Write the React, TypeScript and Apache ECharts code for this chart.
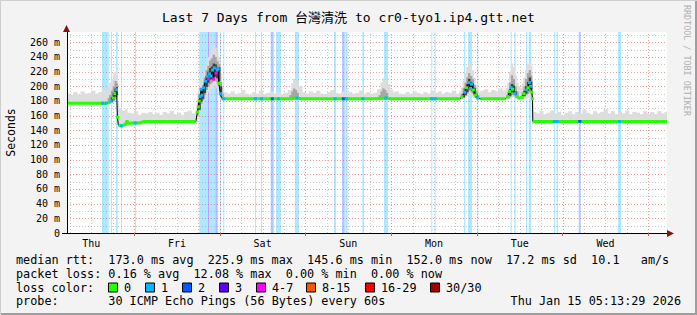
import React, { useEffect, useRef } from 'react';
import * as echarts from 'echarts';

const FONT = "'DejaVu Sans Mono', 'Noto Sans CJK TC', monospace";

// x axis: hours since Thu Jan 8 2026 00:00
const X_MIN = 5.2247;
const X_MAX = 173.2247;
const Y_MAX = 274;

const titleText = 'Last 7 Days from 台灣清洗 to cr0-tyo1.ip4.gtt.net';
const dayLabels = ['Thu', 'Fri', 'Sat', 'Sun', 'Mon', 'Tue', 'Wed'];
const dayNoons = [12, 36, 60, 84, 108, 132, 156];
const midnights = [24, 48, 72, 96, 120, 144, 168];
const sixHours = [6, 12, 18, 30, 36, 42, 54, 60, 66, 78, 84, 90, 102, 108, 114, 126, 132, 138, 150, 156, 162];
const yLabelValues = [0, 20, 40, 60, 80, 100, 120, 140, 160, 180, 200, 220, 240, 260];
const yMajor = [20, 40, 60, 80, 100, 120, 140, 160, 180, 200, 220, 240, 260];
const yMinor = [10, 30, 50, 70, 90, 110, 130, 150, 170, 190, 210, 230, 250, 270];

const lossColors = ['#26ff00', '#00b8ff', '#0059ff', '#5e00ff', '#ff00ff', '#ff5500', '#ff0000', '#a10000'];
const lossLabels = ['0', '1', '2', '3', '4-7', '8-15', '16-29', '30/30'];

const rttStats = ['median rtt:', '173.0 ms avg', '225.9 ms max', '145.6 ms min', '152.0 ms now', '17.2 ms sd', '10.1   am/s'];
const lossStats = ['packet loss:', '0.16 % avg', '12.08 % max', '0.00 % min', '0.00 % now'];
const probeText = 'probe:       30 ICMP Echo Pings (56 Bytes) every 60s';
const stampText = 'Thu Jan 15 05:13:29 2026';

// [hour, median ms, lost pings]
const median: [number, number, number][] = [
  [5.22, 177, 0], [7, 177, 0], [9, 177, 0], [11, 177, 0], [13, 177, 0], [15.2, 177, 1], [16.2, 177, 1],
  [17, 178, 0], [17.6, 180, 1], [18.2, 184, 0], [18.6, 190, 0], [19.1, 195, 1], [19.35, 158, 0],
  [19.6, 147, 0], [20.45, 146, 1], [21, 147, 0], [21.6, 148, 0], [22, 153, 0], [22.4, 149, 0], [23, 150, 0],
  [24.35, 150, 1], [25.5, 150, 0], [26.8, 152, 0], [29, 152, 0], [32, 152, 0], [35, 152, 0], [38, 152, 0], [41.3, 152, 0],
  [41.75, 165, 0], [42, 172, 0], [42.25, 180, 0], [42.5, 186, 1], [42.75, 196, 1], [43, 188, 1], [43.5, 198, 1],
  [44, 207, 1], [44.5, 213, 1], [44.8, 210, 5], [45.1, 217, 1], [45.5, 214, 1], [46, 222, 1], [46.25, 210, 5],
  [46.5, 225, 1], [46.95, 218, 5], [47.25, 222, 1], [47.5, 224, 1], [47.75, 204, 0], [48.15, 190, 1],
  [48.5, 184, 0], [49.1, 183, 1], [50, 183, 0], [53, 183, 0], [56, 183, 0], [58, 183, 1], [59, 183, 0],
  [59.7, 183, 1], [61, 183, 0], [62.7, 183, 2], [63.5, 183, 0], [64.4, 183, 1], [66, 183, 0], [68, 183, 0],
  [69.6, 184, 1], [71, 183, 0], [74, 183, 0], [77, 183, 0], [80.25, 183, 1], [81.5, 183, 0], [82.6, 183, 2],
  [83.5, 183, 1], [85, 183, 0], [88.1, 183, 1], [90, 183, 0], [92, 183, 0], [94.5, 184, 1], [96, 183, 0],
  [99, 183, 0], [102, 183, 0], [105, 183, 0], [107.35, 183, 1], [107.8, 183, 0], [108.3, 183, 1], [110, 183, 0],
  [113, 183, 0], [115.3, 183, 0],
  [115.8, 186, 0], [116.55, 192, 1], [117.1, 198, 0], [117.7, 205, 1], [118.2, 197, 1], [118.5, 203, 1],
  [119, 195, 0], [119.6, 188, 0], [120.25, 184, 1],
  [121, 183, 0], [124, 183, 0], [126, 183, 0], [128, 183, 0],
  [128.6, 186, 0], [129.1, 193, 0], [129.6, 198, 1], [130, 196, 0], [130.65, 190, 1], [131.2, 186, 0],
  [131.8, 184, 0], [132.5, 185, 0], [133.2, 190, 0], [133.9, 195, 1], [134.3, 198, 0], [134.7, 205, 1],
  [135, 200, 1], [135.35, 192, 0], [135.55, 183, 0],
  [135.65, 152, 0], [138, 152, 0], [141.7, 152, 1], [142.1, 152, 0], [142.5, 152, 1], [144, 152, 0],
  [147, 152, 0], [148.8, 152, 2], [150, 152, 0], [153, 152, 0], [156, 152, 0], [159.9, 152, 1], [161, 152, 0],
  [164, 152, 0], [167, 152, 0], [170, 152, 0], [173.22, 152, 0],
];

// time windows in which the median is drawn as dots on a black line
const spikeWindows: [number, number][] = [[16.8, 19.5], [41.5, 48.3], [115.5, 120.6], [128.3, 135.6]];

// [hour from, hour to, lost pings]
const lossBars: [number, number, number][] = [
  [15.0, 16.9, 1], [17.54, 17.82, 1], [18.94, 19.42, 1], [20.34, 20.6, 1], [24.26, 24.5, 1],
  [42.26, 47.58, 1], [44.7, 44.95, 5], [46.86, 47.1, 5], [48.06, 48.34, 1], [48.98, 49.26, 1],
  [57.86, 58.14, 1], [59.54, 59.82, 1], [62.26, 63.1, 2], [63.74, 65.14, 1], [69.06, 70.18, 1],
  [79.98, 80.54, 1], [82.22, 82.98, 2], [83.14, 83.82, 1], [87.9, 88.38, 1], [93.98, 95.1, 1],
  [107.22, 107.5, 1], [108.18, 108.46, 1], [116.38, 116.74, 1], [117.5, 118.62, 1], [120.1, 120.38, 1],
  [129.46, 129.74, 1], [130.46, 130.86, 1], [133.74, 134.1, 1], [134.5, 135.22, 1],
  [141.58, 141.86, 1], [142.34, 142.7, 1], [148.5, 149.06, 2], [159.5, 160.34, 1],
];

// smoke: [hour, low ms, high ms]
type Band = [number, number | null, number | null][];
const smokeOuter: Band = [
  [5.22, 175, 190], [6, 175, 188], [7, 175, 192], [8, 175, 189], [9, 175, 193], [10, 175, 190], [11, 175, 191],
  [12, 175, 194], [13, 175, 190], [14, 175, 192], [15, 175, 195], [16, 175, 193], [16.6, 176, 200], [17, 176, 205],
  [17.5, 177, 210], [18, 178, 216], [18.5, 180, 220], [19, 182, 214], [19.3, 150, 178],
  [19.7, 145, 170], [20.5, 145, 167], [21.5, 146, 169], [22, 148, 164], [23, 148, 163], [24, 148, 166],
  [25, 148, 161], [26, 149, 164], [27, 150, 163], [28, 150, 165], [29, 150, 162], [30, 150, 164], [31, 150, 161],
  [32, 150, 165], [33, 150, 163], [34, 150, 166], [35, 150, 162], [36, 150, 164], [37, 150, 161], [38, 150, 165],
  [39, 150, 167], [40, 150, 163], [41, 150, 166],
  [41.5, 152, 175], [41.75, 158, 190], [42, 165, 198], [42.5, 172, 205], [43, 176, 212], [43.5, 182, 222],
  [44, 188, 232], [44.5, 192, 240], [45, 196, 246], [45.5, 198, 250], [46, 200, 256], [46.5, 200, 252],
  [47, 198, 246], [47.5, 194, 240], [48, 183, 218], [48.5, 181, 198], [49, 181, 192],
  [50, 181, 190], [51, 181, 193], [52, 181, 189], [53, 181, 191], [54, 181, 195], [55, 181, 190], [56, 181, 188],
  [57, 181, 192], [58, 181, 190], [59, 181, 194], [60, 181, 189], [61, 181, 191], [62, 181, 193], [63, 181, 190],
  [64, 181, 192], [65, 181, 189], [66, 181, 191], [67, 181, 195], [68, 181, 204], [68.5, 181, 210], [69, 181, 208],
  [69.5, 181, 206], [70, 181, 200], [71, 181, 192], [72, 181, 190], [73, 181, 193], [74, 181, 191], [75, 181, 194],
  [76, 181, 190], [77, 181, 189], [78, 181, 192], [79, 181, 195], [80, 181, 191], [81, 181, 190], [82, 181, 193],
  [83, 181, 189], [84, 181, 192], [85, 181, 190], [86, 181, 191], [87, 181, 194], [88, 181, 190], [89, 181, 192],
  [90, 181, 190], [91, 181, 191], [92, 181, 196], [93, 181, 205], [93.5, 181, 211], [94, 181, 209], [94.5, 181, 207],
  [95, 181, 203], [95.7, 181, 195], [96.5, 181, 191], [97, 181, 193], [98, 181, 190], [99, 181, 189], [100, 181, 192],
  [101, 181, 190], [102, 181, 193], [103, 181, 191], [104, 181, 189], [105, 181, 192], [106, 181, 190], [107, 181, 194],
  [108, 181, 191], [109, 181, 193], [110, 181, 190], [111, 181, 192], [112, 181, 191], [113, 181, 194], [114, 181, 190],
  [115, 181, 193], [115.5, 182, 198], [116, 182, 208], [116.5, 184, 218], [117, 186, 226], [117.5, 188, 232],
  [118, 188, 228], [118.5, 186, 222], [119, 184, 212], [119.5, 182, 202], [120, 182, 196], [120.5, 181, 192],
  [121, 181, 194], [122, 181, 196], [123, 181, 192], [124, 181, 195], [125, 181, 193], [126, 181, 197], [127, 181, 194],
  [128, 181, 198], [128.5, 182, 205], [129, 183, 220], [129.5, 185, 231], [130, 185, 226], [130.5, 183, 215],
  [131, 182, 205], [131.5, 182, 200], [132, 182, 198], [132.5, 182, 204], [133, 182, 212], [133.5, 183, 222],
  [134, 185, 230], [134.5, 186, 233], [135, 186, 228], [135.35, 183, 210], [135.55, 150, 180],
  [135.7, 150, 165], [136.5, 150, 163], [137.5, 150, 166], [138.5, 150, 162], [139.5, 150, 164], [140.5, 150, 167],
  [141.5, 150, 163], [142.5, 150, 165], [143.5, 150, 161], [144.5, 150, 164], [145.5, 150, 166], [146.5, 150, 162],
  [147.5, 150, 165], [148.5, 150, 163], [149.5, 150, 168], [150.5, 150, 164], [151.5, 150, 162], [152.5, 150, 166],
  [153.5, 150, 163], [154.5, 150, 165], [155.5, 150, 169], [156.5, 150, 163], [157.5, 150, 166], [158.5, 150, 162],
  [159.5, 150, 165], [160.5, 150, 163], [161.5, 150, 167], [162.5, 150, 162], [163.5, 150, 165], [164.5, 150, 164],
  [165.5, 150, 162], [166.5, 150, 166], [167.5, 150, 163], [168.5, 150, 165], [169.5, 150, 162], [170.5, 150, 166],
  [171.5, 150, 163], [172.5, 150, 165],
];
const smokeMid: Band = [
  [16.6, 176, 184], [17, 177, 188], [17.5, 178, 194], [18, 180, 200], [18.5, 183, 207], [19, 185, 204], [19.3, null, null],
  [41.75, 160, 178], [42, 167, 190], [42.5, 176, 196], [43, 181, 202], [43.5, 188, 212], [44, 195, 222],
  [44.5, 199, 228], [45, 203, 235], [45.5, 205, 238], [46, 207, 243], [46.5, 207, 240], [47, 205, 234],
  [47.5, 200, 230], [48, 186, 206], [48.5, 182, 190], [49, null, null],
  [67.5, 182, 188], [68, 183, 193], [68.5, 184, 197], [69, 184, 195], [69.5, 183, 191], [70, null, null],
  [92.5, 182, 188], [93, 183, 193], [93.5, 184, 197], [94, 184, 195], [94.5, 183, 191], [95, null, null],
  [115.5, 183, 190], [116, 184, 198], [116.5, 187, 205], [117, 190, 212], [117.5, 194, 218], [118, 193, 214],
  [118.5, 190, 210], [119, 187, 202], [119.5, 184, 194], [120, 183, 188], [120.5, null, null],
  [128.5, 183, 192], [129, 185, 205], [129.5, 188, 215], [130, 188, 210], [130.5, 186, 200], [131, 184, 193], [131.5, null, null],
  [132.5, 183, 192], [133, 185, 200], [133.5, 188, 210], [134, 190, 218], [134.5, 192, 222], [135, 192, 215],
  [135.35, 185, 198], [135.55, null, null],
];
const smokeDark: Band = [
  [17.5, 179, 185], [18, 182, 191], [18.5, 186, 197], [19, 188, 199], [19.3, null, null],
  [42, 168, 182], [42.5, 179, 192], [43, 183, 198], [43.5, 191, 206], [44, 199, 214], [44.5, 205, 220],
  [45, 209, 225], [45.5, 210, 227], [46, 212, 231], [46.5, 213, 230], [47, 211, 226], [47.5, 207, 226],
  [48, 190, 200], [48.5, null, null],
  [116, 185, 190], [116.5, 188, 197], [117, 192, 203], [117.5, 197, 210], [118, 195, 206], [118.5, 193, 204],
  [119, 189, 198], [119.5, 185, 190], [120, null, null],
  [129, 187, 196], [129.5, 192, 203], [130, 191, 201], [130.5, 188, 193], [131, null, null],
  [133, 187, 194], [133.5, 190, 200], [134, 194, 206], [134.5, 197, 212], [135, 196, 206], [135.35, null, null],
];

function bucket(l: number) {
  if (l <= 3) return l;
  if (l <= 7) return 4;
  if (l <= 15) return 5;
  if (l <= 29) return 6;
  return 7;
}
function inSpike(h: number) {
  return spikeWindows.some(([a, b]) => h >= a && h <= b);
}
function hexAlpha(hex: string, a: number) {
  const r = parseInt(hex.slice(1, 3), 16), g = parseInt(hex.slice(3, 5), 16), b = parseInt(hex.slice(5, 7), 16);
  return `rgba(${r},${g},${b},${a})`;
}

function bandSeries(name: string, pts: Band, color: string, z: number) {
  return {
    type: 'custom', name, z, silent: true, clip: true,
    data: pts.map((p) => [p[0], p[1] ?? 0, p[2] ?? 0]),
    encode: { x: 0, y: [1, 2] },
    renderItem: (params: any, api: any) => {
      const i = params.dataIndex;
      const p = pts[i];
      if (p[1] == null || p[2] == null) return null;
      const next = pts[i + 1];
      const end = next ? next[0] : X_MAX;
      const tl = api.coord([p[0], p[2]]);
      const br = api.coord([end, p[1]]);
      return {
        type: 'rect',
        shape: { x: tl[0], y: tl[1], width: br[0] - tl[0] + 0.6, height: br[1] - tl[1] },
        style: { fill: color },
      };
    },
  };
}

type GridLine = { dir: 'v' | 'h'; v: number; major: boolean };
const gridLines: GridLine[] = [
  ...yMinor.map((v) => ({ dir: 'h' as const, v, major: false })),
  ...sixHours.map((v) => ({ dir: 'v' as const, v, major: false })),
  ...yMajor.map((v) => ({ dir: 'h' as const, v, major: true })),
  ...midnights.map((v) => ({ dir: 'v' as const, v, major: true })),
];

const CW = 7.1; // legend char advance
const LEG_FS = 11.8;
function monoRow(s: string, x0: number, y: number) {
  const out: any[] = [];
  const re = /\S+(?: \S+)*/g;
  let m: RegExpExecArray | null;
  while ((m = re.exec(s))) {
    out.push({
      type: 'text', x: x0 + m.index * CW, y, silent: true,
      style: { text: m[0], fontFamily: FONT, fontSize: LEG_FS, fill: '#000', verticalAlign: 'middle' },
    });
  }
  return out;
}

function buildOption() {
  const row1 = rttStats[0].padEnd(13) + rttStats.slice(1).join('  ');
  const row2 = lossStats[0].padEnd(13) + lossStats.slice(1).join('  ');
  const boxX = [108, 145, 182, 219, 256, 306, 365, 430];

  const graphic: any[] = [
    ...monoRow(row1, 16, 259.5),
    ...monoRow(row2, 16, 273.5),
    ...monoRow('loss color:', 16, 287.5),
    ...monoRow(probeText, 16, 301),
    {
      type: 'text', x: 681, y: 301, silent: true,
      style: { text: stampText, fontFamily: FONT, fontSize: LEG_FS, fill: '#000', align: 'right', verticalAlign: 'middle' },
    },
    ...lossLabels.flatMap((lab, i) => [
      { type: 'rect', silent: true, shape: { x: boxX[i] + 0.5, y: 283, width: 9, height: 9 }, style: { fill: lossColors[i], stroke: '#000', lineWidth: 1 } },
      { type: 'text', x: boxX[i] + 16, y: 287.5, silent: true, style: { text: lab, fontFamily: FONT, fontSize: LEG_FS, fill: '#000', verticalAlign: 'middle' } },
    ]),
    {
      type: 'text', x: 686.5, y: 5, rotation: -Math.PI / 2, silent: true,
      style: { text: 'RRDTOOL / TOBI OETIKER', fontFamily: FONT, fontSize: 8.4, fill: '#b0b0b0', align: 'left', verticalAlign: 'middle' },
    },
    { type: 'rect', silent: true, shape: { x: 695, y: 0, width: 2, height: 315 }, style: { fill: '#9e9e9e' } },
    { type: 'rect', silent: true, shape: { x: 0, y: 313, width: 697, height: 2 }, style: { fill: '#9e9e9e' } },
    { type: 'rect', silent: true, shape: { x: 0, y: 0, width: 697, height: 1 }, style: { fill: '#cfcfcf' } },
    { type: 'rect', silent: true, shape: { x: 0, y: 0, width: 1, height: 315 }, style: { fill: '#cfcfcf' } },
    { type: 'line', silent: true, shape: { x1: 62, y1: 233.5, x2: 67, y2: 233.5 }, style: { stroke: '#000', lineWidth: 1 } },
    { type: 'polygon', silent: true, z: 100, shape: { points: [[66.5, 25], [63, 32], [70, 32]] }, style: { fill: '#8b1010' } },
    { type: 'polygon', silent: true, z: 100, shape: { points: [[674, 233.5], [667, 230], [667, 237]] }, style: { fill: '#8b1010' } },
  ];

  return {
    animation: false,
    backgroundColor: '#f3f3f3',
    title: {
      text: titleText, left: 'center', top: 6,
      textStyle: { fontFamily: FONT, fontSize: 13, fontWeight: 'normal', color: '#000' },
    },
    grid: {
      left: 67, right: 30, top: 32, bottom: 82, show: true, backgroundColor: '#ffffff', borderWidth: 0,
      containLabel: false, outerBoundsMode: 'none',
    },
    xAxis: {
      type: 'value', min: X_MIN, max: X_MAX, z: 10,
      axisLine: { show: true, lineStyle: { color: '#000', width: 1 } },
      axisTick: { show: true, customValues: midnights, length: 3, lineStyle: { color: '#e05050' } },
      axisLabel: {
        customValues: dayNoons, margin: 5, fontFamily: FONT, fontSize: 10, color: '#000',
        formatter: (v: number) => dayLabels[dayNoons.indexOf(Math.round(v))] ?? '',
      },
      splitLine: { show: false },
    },
    yAxis: {
      type: 'value', min: 0, max: Y_MAX, z: 10,
      name: 'Seconds', nameLocation: 'middle', nameRotate: 90, nameGap: 50,
      nameTextStyle: { fontFamily: FONT, fontSize: 11.5, color: '#000' },
      axisLine: { show: true, lineStyle: { color: '#000', width: 1 } },
      axisTick: { show: false },
      axisLabel: {
        customValues: yLabelValues, margin: 7, fontFamily: FONT, fontSize: 10, color: '#000',
        formatter: (v: number) => (v === 0 ? '0' : `${v} m`),
      },
      splitLine: { show: false },
    },
    graphic,
    series: [
      {
        type: 'custom', name: 'loss', z: 1, silent: true, clip: true,
        data: lossBars.map((b) => [b[0], b[1], b[2]]),
        renderItem: (params: any, api: any) => {
          const b = lossBars[params.dataIndex];
          const tl = api.coord([b[0], Y_MAX]);
          const br = api.coord([b[1], 0]);
          return {
            type: 'rect',
            shape: { x: tl[0], y: tl[1], width: Math.max(1, br[0] - tl[0]), height: br[1] - tl[1] },
            style: { fill: hexAlpha(lossColors[bucket(b[2])], 0.32) },
          };
        },
      },
      {
        type: 'custom', name: 'grid', z: 2, silent: true, clip: true,
        data: gridLines.map((g, i) => [i, 0]),
        renderItem: (params: any, api: any) => {
          const g = gridLines[params.dataIndex];
          const a = g.dir === 'v' ? api.coord([g.v, 0]) : api.coord([X_MIN, g.v]);
          const b = g.dir === 'v' ? api.coord([g.v, Y_MAX]) : api.coord([X_MAX, g.v]);
          const off = 0.5;
          return {
            type: 'line',
            shape: g.dir === 'v'
              ? { x1: Math.round(a[0]) + off, y1: a[1], x2: Math.round(b[0]) + off, y2: b[1] }
              : { x1: a[0], y1: Math.round(a[1]) + off, x2: b[0], y2: Math.round(b[1]) + off },
            style: {
              stroke: g.major ? 'rgba(225,90,90,0.6)' : 'rgba(150,150,150,0.5)',
              lineWidth: 1, lineDash: [1, 2],
            },
          };
        },
      },
      bandSeries('smokeOuter', smokeOuter, '#dddddd', 3),
      bandSeries('smokeMid', smokeMid, '#a6a6a6', 4),
      bandSeries('smokeDark', smokeDark, '#404040', 5),
      {
        type: 'line', name: 'medianBlack', z: 6, silent: true, symbol: 'none',
        data: median.map((p) => [p[0], p[1]]),
        lineStyle: { color: '#000', width: 1 },
      },
      {
        type: 'line', name: 'medianGreen', z: 7, silent: true, symbol: 'none', connectNulls: false,
        data: median.map((p) => [p[0], inSpike(p[0]) ? null : p[1]]),
        lineStyle: { color: lossColors[0], width: 3 },
      },
      {
        type: 'scatter', name: 'lossDots', z: 8, silent: true, symbol: 'rect', symbolSize: [3, 3],
        data: median.filter((p) => p[2] > 0 || inSpike(p[0])).map((p) => [p[0], p[1], p[2]]),
        itemStyle: { color: (params: any) => lossColors[bucket(params.data[2])], opacity: 1 },
      },
    ],
  };
}

export default function App() {
  const ref = useRef<HTMLDivElement>(null);
  useEffect(() => {
    if (!ref.current) return;
    const chart = echarts.init(ref.current, null, { renderer: 'svg' });
    chart.setOption(buildOption() as any);
    return () => chart.dispose();
  }, []);
  return <div ref={ref} style={{ position: 'fixed', left: 0, top: 0, width: 697, height: 315 }} />;
}
